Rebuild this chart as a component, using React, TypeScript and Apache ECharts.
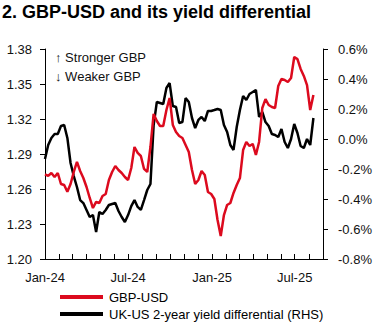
import React, { useEffect, useRef } from "react";
import * as echarts from "echarts";

// Weekly observations starting Mon 1 Jan 2024
const startDate = "2024-01-01";
const weeksCount = 85;

// GBP-USD (LHS)
const gbpUsd = [
  1.2726, 1.2712, 1.2737, 1.2703, 1.2737, 1.2643, 1.2634, 1.2577, 1.2643, 1.2746,
  1.2832, 1.2754, 1.2694, 1.2617, 1.2523, 1.2437, 1.2489, 1.2480, 1.2540, 1.2557,
  1.2677, 1.2746, 1.2797, 1.2763, 1.2737, 1.2703, 1.2677, 1.2780, 1.2960, 1.2909,
  1.2883, 1.2772, 1.2746, 1.2960, 1.3243, 1.3183, 1.3140, 1.3140, 1.3277, 1.3380,
  1.3149, 1.3089, 1.3054, 1.3037, 1.2977, 1.2917, 1.2763, 1.2643, 1.2677, 1.2754,
  1.2720, 1.2574, 1.2557, 1.2514, 1.2334, 1.2197, 1.2377, 1.2463, 1.2480, 1.2566,
  1.2634, 1.2694, 1.2934, 1.3003, 1.2969, 1.2986, 1.2892, 1.3003, 1.3294, 1.3371,
  1.3320, 1.3303, 1.3294, 1.3483, 1.3543, 1.3534, 1.3517, 1.3551, 1.3731, 1.3714,
  1.3629, 1.3569, 1.3491, 1.3277, 1.3406,
];

// UK-US 2-year yield differential, % (RHS)
const yieldDiff = [
  -0.133, -0.04, 0.007, 0.033, 0.033, 0.087, 0.093, 0.007, -0.16, -0.247,
  -0.32, -0.407, -0.427, -0.473, -0.52, -0.507, -0.62, -0.487, -0.5, -0.473,
  -0.44, -0.433, -0.427, -0.48, -0.52, -0.553, -0.507, -0.447, -0.407, -0.453,
  -0.473, -0.407, -0.34, -0.3, 0.093, 0.247, 0.24, 0.233, 0.34, 0.373,
  0.22, 0.213, 0.107, 0.113, 0.273, 0.247, 0.14, 0.073, 0.127, 0.147,
  0.12, 0.187, 0.187, 0.193, 0.2, 0.193, 0.093, 0.047, -0.04, -0.073,
  0.08, 0.193, 0.287, 0.26, 0.3, 0.313, 0.327, 0.147, 0.18, 0.113,
  0.087, 0.033, 0.027, 0.013, 0.067, -0.02, -0.06, 0.0, 0.1, 0.04,
  -0.047, -0.06, 0.0, -0.04, 0.14,
];

const seriesNames = ["GBP-USD", "UK-US 2-year yield differential (RHS)"];
const titleText = "2. GBP-USD and its yield differential";
const noteUp = "\u2191 Stronger GBP";
const noteDown = "\u2193 Weaker GBP";
const monthAbbr = ["Jan", "Feb", "Mar", "Apr", "May", "Jun", "Jul", "Aug", "Sep", "Oct", "Nov", "Dec"];
const labelMonths = [0, 6]; // Jan and Jul labelled

const FONT = '"Liberation Sans", Arial, sans-serif';
const RED = "#dc0a1e";

function weeklyDates(): number[] {
  const t0 = Date.UTC(2024, 0, 1);
  const out: number[] = [];
  for (let i = 0; i < weeksCount; i++) out.push(t0 + i * 7 * 86400000);
  return out;
}

function monthStarts(): number[] {
  const out: number[] = [];
  for (let i = 0; i <= 20; i++) out.push(Date.UTC(2024, i, 1));
  return out;
}

export default function App() {
  const ref = useRef<HTMLDivElement>(null);
  useEffect(() => {
    if (!ref.current) return;
    const chart = echarts.init(ref.current, null, { renderer: "svg" });
    const dates = weeklyDates();
    const months = monthStarts();
    const labelled = months.filter((t) => labelMonths.includes(new Date(t).getUTCMonth()));
    chart.setOption({
      animation: false,
      backgroundColor: "#ffffff",
      textStyle: { fontFamily: FONT },
      title: {
        text: titleText,
        left: 2,
        top: 3,
        padding: 0,
        textStyle: { fontFamily: FONT, fontSize: 18, fontWeight: "bold", color: "#000" },
      },
      legend: {
        orient: "vertical",
        left: 60,
        top: 290,
        padding: 0,
        itemGap: 3,
        itemWidth: 43,
        itemHeight: 4,
        icon: "rect",
        data: seriesNames,
        textStyle: { fontFamily: FONT, fontSize: 13, color: "#000", lineHeight: 14, padding: [0, 0, 0, 1] },
      },
      grid: { left: 45, right: 54, top: 49, bottom: 64, containLabel: false },
      xAxis: {
        type: "value",
        min: Date.UTC(2024, 0, 1),
        max: Date.UTC(2025, 8, 1),
        scale: true,
        splitLine: { show: false },
        axisLine: { show: true, onZero: false, lineStyle: { color: "#000", width: 1 } },
        axisTick: {
          show: true,
          inside: true,
          length: 5,
          customValues: months,
          lineStyle: { color: "#000" },
        },
        axisLabel: {
          margin: 12,
          fontSize: 13,
          fontFamily: FONT,
          color: "#111",
          customValues: labelled,
          hideOverlap: false,
          formatter: (v: number) => {
            const d = new Date(v);
            return monthAbbr[d.getUTCMonth()] + "-" + String(d.getUTCFullYear()).slice(2);
          },
        },
      },
      yAxis: [
        {
          type: "value",
          position: "left",
          min: 1.2,
          max: 1.38,
          interval: 0.03,
          splitLine: { show: false },
          axisLine: { show: true, lineStyle: { color: "#000", width: 1 } },
          axisTick: { show: true, length: 5, lineStyle: { color: "#000" } },
          axisLabel: {
            margin: 13,
            fontSize: 13,
            fontFamily: FONT,
            color: "#111",
            formatter: (v: number) => v.toFixed(2),
          },
        },
        {
          type: "value",
          position: "right",
          min: -0.8,
          max: 0.6,
          interval: 0.2,
          splitLine: { show: false },
          axisLine: { show: true, lineStyle: { color: "#000", width: 1 } },
          axisTick: { show: true, length: 5, lineStyle: { color: "#000" } },
          axisLabel: {
            margin: 15,
            fontSize: 13,
            fontFamily: FONT,
            color: "#111",
            formatter: (v: number) => (Math.abs(v) < 1e-9 ? 0 : v).toFixed(1) + "%",
          },
        },
      ],
      graphic: [
        {
          type: "text",
          left: 55,
          top: 51,
          style: { text: noteUp, fontFamily: FONT, fontSize: 13, fill: "#111" },
        },
        {
          type: "text",
          left: 55,
          top: 70,
          style: { text: noteDown, fontFamily: FONT, fontSize: 13, fill: "#111" },
        },
      ],
      series: [
        {
          name: seriesNames[1],
          type: "line",
          yAxisIndex: 1,
          symbol: "none",
          z: 2,
          lineStyle: { color: "#000", width: 2.5 },
          itemStyle: { color: "#000" },
          data: dates.map((d, i) => [d, yieldDiff[i]]),
        },
        {
          name: seriesNames[0],
          type: "line",
          yAxisIndex: 0,
          symbol: "none",
          z: 3,
          lineStyle: { color: RED, width: 2.5 },
          itemStyle: { color: RED },
          data: dates.map((d, i) => [d, gbpUsd[i]]),
        },
      ],
    });
    return () => chart.dispose();
  }, []);
  return <div ref={ref} style={{ position: "fixed", left: 0, top: 0, width: 377, height: 323 }} />;
}
